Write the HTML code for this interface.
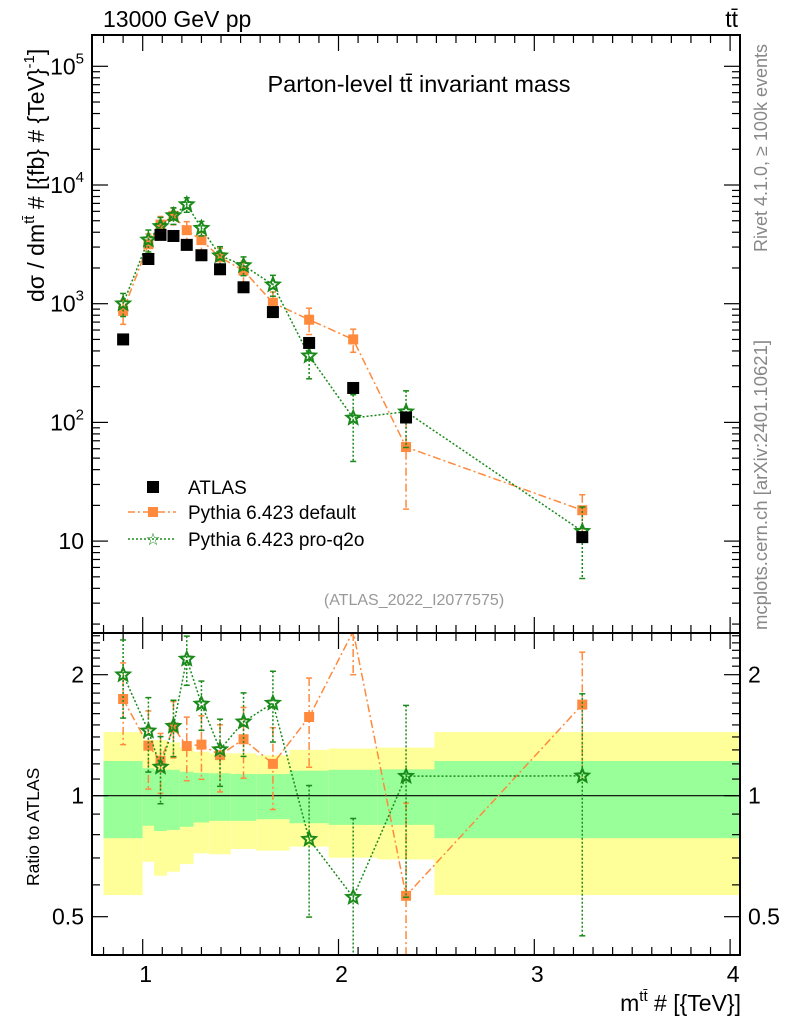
<!DOCTYPE html>
<html><head><meta charset="utf-8"><style>
html,body{margin:0;padding:0;background:#fff;}
svg{display:block;font-family:"Liberation Sans",sans-serif;}
</style></head><body>
<svg id="c" width="786" height="1024" viewBox="0 0 786 1024" xmlns="http://www.w3.org/2000/svg">
<g id="bands"></g>
<g id="grid"></g>
<g id="series"></g>
<rect x="92" y="35" width="648" height="598" fill="none" stroke="#000" stroke-width="2"/>
<rect x="92" y="633" width="648" height="322" fill="none" stroke="#000" stroke-width="2"/>
<text x="103" y="27" font-size="23">13000 GeV pp</text>
<text x="738" y="27" font-size="23" text-anchor="end">tt̄</text>
<text x="419" y="92" font-size="23.5" text-anchor="middle">Parton-level tt̄ invariant mass</text>
<text x="414" y="605" font-size="16" fill="#999" text-anchor="middle">(ATLAS_2022_I2077575)</text>
<text transform="translate(767,252) rotate(-90)" font-size="18" fill="#888">Rivet 4.1.0, ≥ 100k events</text>
<text transform="translate(767,630) rotate(-90)" font-size="18.5" fill="#888">mcplots.cern.ch [arXiv:2401.10621]</text>
<text transform="translate(44,302) rotate(-90)" font-size="23">dσ / dm<tspan font-size="15" dy="-10">tt̄</tspan><tspan dy="10"> # [{fb} # {TeV}</tspan><tspan font-size="15" dy="-10">-1</tspan><tspan dy="10">]</tspan></text>
<text transform="translate(39,886) rotate(-90)" font-size="17.5">Ratio to ATLAS</text>
<text x="741" y="1011" font-size="23" text-anchor="end">m<tspan font-size="15" dy="-10">tt̄</tspan><tspan dy="10"> # [{TeV}]</tspan></text>
<g>
<rect x="147" y="481" width="12" height="12" fill="#000"/>
<text x="188" y="494" font-size="19">ATLAS</text>
<line x1="128" y1="512" x2="176" y2="512" stroke="#ff8a3d" stroke-width="1.5" stroke-dasharray="7,3,2,3"/>
<rect x="148" y="507" width="10" height="10" fill="#ff8a3d"/>
<text x="188" y="519" font-size="19">Pythia 6.423 default</text>
<line x1="128" y1="539" x2="176" y2="539" stroke="#1a8a1a" stroke-width="1.5" stroke-dasharray="2,2"/>
<text x="153" y="545" font-size="17" fill="#1a8a1a" text-anchor="middle">☆</text>
<text x="188" y="546" font-size="19">Pythia 6.423 pro-q2o</text>
</g>
</svg>
<script>
const edges=[0.8,1.0,1.058,1.124,1.19,1.26,1.34,1.45,1.58,1.75,1.95,2.2,2.49,4.0];
const atlas=[500,2380,3800,3720,3130,2560,1950,1375,850,467,195,110,10.8];
const pyDefault=[870,3170,4640,5500,4160,3430,2460,1900,1020,733,500,62,18.2];
const pyProq2o=[1000,3450,4480,5540,6850,4330,2540,2100,1445,364,109,123,12.1];
const errDefault=[0.23,0.22,0.17,0.16,0.18,0.18,0.19,0.2,0.23,0.25,0.22,0.7,0.35];
const errProq2o=[0.22,0.21,0.19,0.16,0.14,0.14,0.19,0.18,0.2,0.36,0.57,0.5,0.6];
const bandYellowUp=[1.44,1.376,1.376,1.358,1.32,1.287,1.275,1.275,1.26,1.30,1.31,1.317,1.44];
const bandGreenUp=[1.22,1.17,1.16,1.16,1.147,1.14,1.137,1.132,1.132,1.154,1.16,1.163,1.22];
const bandGreenDn=[0.784,0.842,0.817,0.822,0.837,0.858,0.866,0.866,0.874,0.854,0.846,0.846,0.784];
const bandYellowDn=[0.566,0.685,0.632,0.647,0.676,0.719,0.715,0.737,0.73,0.747,0.701,0.694,0.566];
const xTicks=[1,2,3,4];
const yMainTicks=[10,100,1000,10000,100000];
const yRatioTicks=[0.5,1,2];

const NS="http://www.w3.org/2000/svg";
const X=v=>142.7+(v-1)*195.8;
const YM=v=>303.7-(Math.log10(v)-3)*118.7;
const YR=v=>795.7-Math.log2(v)*121;
const T=35, B=633, RT=633, RB=955;
function el(p,tag,a){const e=document.createElementNS(NS,tag);for(const k in a)e.setAttribute(k,a[k]);p.appendChild(e);return e;}
const bands=document.getElementById('bands'),grid=document.getElementById('grid'),ser=document.getElementById('series');
const clipY=(y,a,b)=>Math.max(a,Math.min(b,y));
for(let i=0;i<atlas.length;i++){
 const x0=X(edges[i]),x1=(i==atlas.length-1)?739:X(edges[i+1]);
 const y1=el(bands,'rect',{x:x0,y:YR(bandYellowUp[i]),width:x1-x0,height:YR(bandYellowDn[i])-YR(bandYellowUp[i]),fill:'#ffff99'});
 
 
 const g1=el(bands,'rect',{x:x0,y:YR(bandGreenUp[i]),width:x1-x0,height:YR(bandGreenDn[i])-YR(bandGreenUp[i]),fill:'#99ff99'});
 
 
}
el(grid,'line',{x1:92,x2:740,y1:YR(1),y2:YR(1),stroke:'#000','stroke-width':1.2});
for(let k=8;k<=40;k++){
 const v=k/10, major=k%10==0, x=X(v), len=major?16:8;
 for(const [yb,yt] of [[B,T],[RB,RT]]){
  el(grid,'line',{x1:x,x2:x,y1:yb,y2:yb-len,stroke:'#000','stroke-width':1.2});
  el(grid,'line',{x1:x,x2:x,y1:yt,y2:yt+len,stroke:'#000','stroke-width':1.2});
 }
}
xTicks.forEach(v=>{const t=el(grid,'text',{x:X(v)+3,y:982,'font-size':23,'text-anchor':'middle'});t.textContent=v;
 
 });
for(let e=0;e<=5;e++){for(let m=1;m<10;m++){const v=m*Math.pow(10,e),y=YM(v);if(y<T||y>B)continue;const len=m==1?16:8;
 el(grid,'line',{x1:92,x2:92+len,y1:y,y2:y,stroke:'#000','stroke-width':1.2});
 el(grid,'line',{x1:740,x2:740-len,y1:y,y2:y,stroke:'#000','stroke-width':1.2});}}
yMainTicks.forEach((v,i)=>{const t=el(grid,'text',{x:84,y:YM(v)+8,'font-size':23,'text-anchor':'end'});
 t.textContent='10';if(i>0){const s=el(t,'tspan',{'font-size':15,dy:-11});s.textContent=String(Math.round(Math.log10(v)));}
 
 });
for(let k=4;k<=25;k++){const v=k/10,y=YR(v);if(y<RT||y>RB)continue;const major=yRatioTicks.some(t=>Math.abs(t-v)<0.01);const len=major?16:8;
 el(grid,'line',{x1:92,x2:92+len,y1:y,y2:y,stroke:'#000','stroke-width':1.2});
 el(grid,'line',{x1:740,x2:740-len,y1:y,y2:y,stroke:'#000','stroke-width':1.2});}
yRatioTicks.forEach(v=>{[[84,'end'],[748,'start']].forEach(([x,a])=>{const t=el(grid,'text',{x:x,y:YR(v)+8,'font-size':23,'text-anchor':a});t.textContent=v;
 
 });});
const mids=atlas.map((_,i)=>(edges[i]+edges[i+1])/2);
function star(g,x,y,r,col){let p='';for(let k=0;k<10;k++){const a=-Math.PI/2+k*Math.PI/5,rr=k%2?r*0.45:r;p+=(x+rr*Math.cos(a)).toFixed(1)+','+(y+rr*Math.sin(a)).toFixed(1)+' ';}
 return el(g,'polygon',{points:p,fill:'none',stroke:col,'stroke-width':2});}
const defs=el(document.getElementById('c'),'defs',{});
const c1=el(defs,'clipPath',{id:'cm'});el(c1,'rect',{x:92,y:35,width:648,height:598});
const c2=el(defs,'clipPath',{id:'cr'});el(c2,'rect',{x:92,y:633,width:648,height:322});
function drawMC(vals,errs,col,dash,kind,name){
 const g=el(ser,'g',{});
 
 
 [[YM,vals.map(v=>v),T,B],[YR,vals.map((v,i)=>v/atlas[i]),RT,RB]].forEach(([Y,vs,a,b])=>{
  const cp=el(g,'g',{});
  const pts=vs.map((v,i)=>X(mids[i])+','+Y(v)).join(' ');
  const pl=el(cp,'polyline',{points:pts,fill:'none',stroke:col,'stroke-width':1.5,'stroke-dasharray':dash});
  pl.setAttribute('clip-path',Y===YM?'url(#cm)':'url(#cr)');
  
  
  vs.forEach((v,i)=>{const x=X(mids[i]);const yu=clipY(Y(v*(1+errs[i])),a,b),yd=clipY(Y(Math.max(v*(1-errs[i]),1e-3)),a,b);
   el(cp,'line',{x1:x,x2:x,y1:yu,y2:yd,stroke:col,'stroke-width':1.5,'stroke-dasharray':dash});
   [yu,yd].forEach(yy=>{if(yy>a+1&&yy<b-1)el(cp,'line',{x1:x-3,x2:x+3,y1:yy,y2:yy,stroke:col,'stroke-width':1.5});});
   const y=Y(v);if(y<a||y>b)return;
   let m;
   if(kind=='sq')m=el(cp,'rect',{x:x-5,y:y-5,width:10,height:10,fill:col});else m=star(cp,x,y,7,col);
   
   
  });
 });
}
drawMC(pyDefault,errDefault,'#ff8a3d','8,3,2,3','sq','pythia-default');
drawMC(pyProq2o,errProq2o,'#1a8a1a','2,2','star','pythia-proq2o');
atlas.forEach((v,i)=>{const r=el(ser,'rect',{x:X(mids[i])-6,y:YM(v)-6,width:12,height:12,fill:'#000'});
 
 });
</script>
</body></html>
